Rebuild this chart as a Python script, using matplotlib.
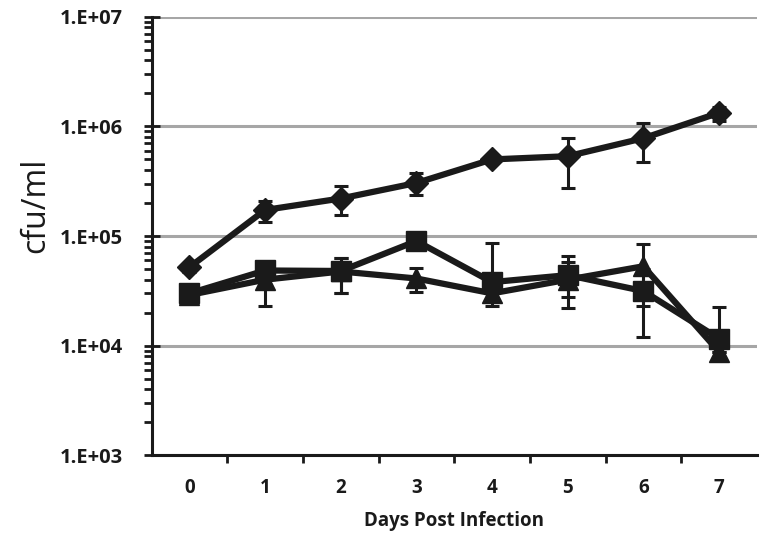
import matplotlib
matplotlib.use("Agg")
import matplotlib.pyplot as plt
import numpy as np
from matplotlib.ticker import LogLocator, FixedLocator, NullFormatter

days = [0, 1, 2, 3, 4, 5, 6, 7]
day_labels = ["0", "1", "2", "3", "4", "5", "6", "7"]

# diamonds
diamond_vals = [5.2e4, 1.73e5, 2.2e5, 3.05e5, 5.0e5, 5.35e5, 7.8e5, 1.33e6]
diamond_lo = [5e3, 4.0e4, 6.5e4, 7.0e4, 0, 2.6e5, 3.1e5, 2.0e5]
diamond_hi = [5e3, 3.5e4, 6.5e4, 7.0e4, 0, 2.5e5, 2.9e5, 1.7e5]

# squares
square_vals = [3.0e4, 4.85e4, 4.8e4, 9.0e4, 3.8e4, 4.4e4, 3.15e4, 1.16e4]
square_lo = [2e3, 3e3, 1.8e4, 5e3, 0, 1.6e4, 1.95e4, 0]
square_hi = [2e3, 3e3, 1.5e4, 5e3, 4.8e4, 2.2e4, 1.9e4, 1.1e4]

# triangles
triangle_vals = [2.9e4, 4.0e4, 4.75e4, 4.1e4, 3.0e4, 4.0e4, 5.3e4, 8.8e3]
triangle_lo = [2e3, 1.7e4, 1.7e4, 1.0e4, 7e3, 1.8e4, 3.0e4, 0]
triangle_hi = [2e3, 1.7e4, 1.5e4, 1.0e4, 7e3, 1.8e4, 3.2e4, 0]


def main():
    plt.rcParams["font.family"] = ["Open Sans", "DejaVu Sans"]
    fig = plt.figure(figsize=(7.66, 5.42), dpi=100)
    ax = fig.add_axes([0.198, 0.160, 0.790, 0.809])

    ink = "#1a1a1a"
    series = [
        (diamond_vals, diamond_lo, diamond_hi, "D", 12),
        (square_vals, square_lo, square_hi, "s", 15),
        (triangle_vals, triangle_lo, triangle_hi, "^", 15),
    ]
    for vals, lo, hi, marker, ms in series:
        ax.errorbar(days, vals, yerr=[lo, hi], fmt="none", ecolor=ink,
                    elinewidth=2.2, capsize=5, capthick=2.2, zorder=3)
        ax.plot(days, vals, color=ink, lw=4.5, marker=marker, ms=ms,
                mfc=ink, mec=ink, zorder=4)

    ax.set_yscale("log")
    ax.set_ylim(1e3, 1e7)
    ax.set_xlim(-0.5, 7.5)

    ax.yaxis.set_major_locator(FixedLocator([1e3, 1e4, 1e5, 1e6, 1e7]))
    ax.set_yticklabels(["1.E+03", "1.E+04", "1.E+05", "1.E+06", "1.E+07"])
    ax.yaxis.set_minor_locator(LogLocator(base=10, subs=np.arange(2, 10)))
    ax.yaxis.set_minor_formatter(NullFormatter())
    ax.grid(axis="y", which="major", color="#a6a6a6", lw=2.2, zorder=0)

    ax.set_xticks(days)
    ax.set_xticklabels(day_labels)
    ax.xaxis.set_minor_locator(FixedLocator(np.arange(0.5, 7.5, 1)))
    ax.tick_params(axis="x", which="major", length=0, pad=16,
                   labelsize=13.5)
    ax.tick_params(axis="x", which="minor", length=6, width=2,
                   color=ink, direction="out")
    ax.tick_params(axis="y", which="major", length=12, width=2,
                   color=ink, direction="inout", labelsize=14.5, pad=15)
    ax.tick_params(axis="y", which="minor", length=6, width=2,
                   color=ink, direction="out")
    for lab in ax.get_xticklabels() + ax.get_yticklabels():
        lab.set_fontweight("bold")
        lab.set_color(ink)

    for side in ["top", "right"]:
        ax.spines[side].set_visible(False)
    for side in ["left", "bottom"]:
        ax.spines[side].set_linewidth(2.2)
        ax.spines[side].set_color(ink)

    ax.set_ylabel("cfu/ml", fontsize=23, color=ink)
    ax.yaxis.set_label_coords(-0.164, 0.571)
    ax.set_xlabel("Days Post Infection", fontsize=13.5, fontweight="bold",
                  color=ink, labelpad=10)

    fig.savefig("out.png", dpi=100)


if __name__ == "__main__":
    main()
